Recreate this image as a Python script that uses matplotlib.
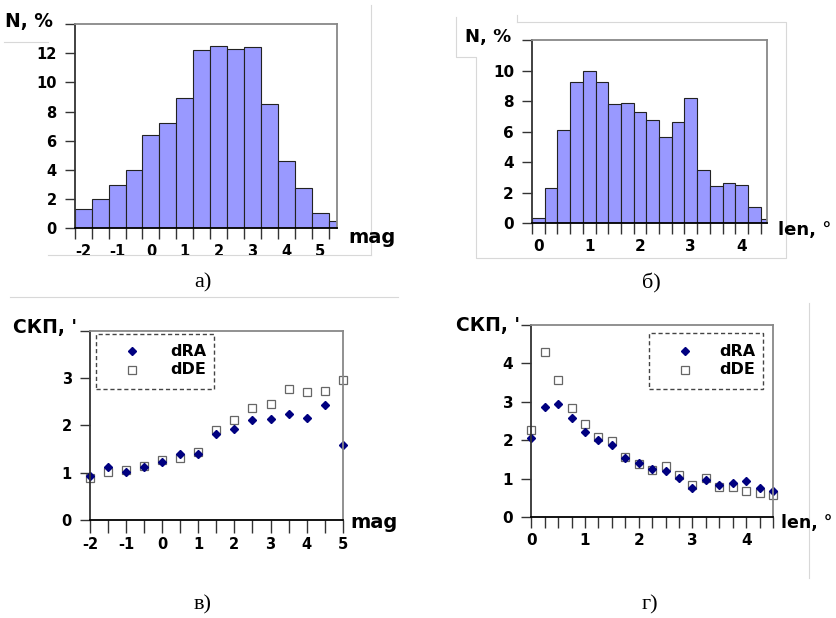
import numpy as np
import matplotlib
matplotlib.use("Agg")
import matplotlib.pyplot as plt
from matplotlib.lines import Line2D
from matplotlib.patches import Rectangle

# --- data -------------------------------------------------------------
mag_bins = [-2, -1.5, -1, -0.5, 0, 0.5, 1, 1.5, 2, 2.5, 3, 3.5, 4, 4.5, 5, 5.5]
mag_pct = [1.35, 2.0, 2.99, 4.0, 6.4, 7.2, 8.95, 12.2, 12.5, 12.3, 12.45, 8.5, 4.62, 2.77, 1.07, 0.48]

len_bins = [0, 0.25, 0.5, 0.75, 1.0, 1.25, 1.5, 1.75, 2.0, 2.25, 2.5, 2.75, 3.0,
            3.25, 3.5, 3.75, 4.0, 4.25, 4.5]
len_pct = [0.33, 2.3, 6.13, 9.26, 10.0, 9.26, 7.83, 7.9, 7.26, 6.76, 5.62, 6.63, 8.2,
           3.5, 2.47, 2.63, 2.49, 1.07, 0.26]

mag_x = [-2, -1.5, -1, -0.5, 0, 0.5, 1, 1.5, 2, 2.5, 3, 3.5, 4, 4.5, 5]
mag_dra = [0.94, 1.13, 1.01, 1.12, 1.22, 1.40, 1.39, 1.81, 1.92, 2.11, 2.13, 2.25, 2.16, 2.44, 1.58]
mag_dde = [0.88, 1.02, 1.05, 1.15, 1.26, 1.30, 1.44, 1.90, 2.11, 2.37, 2.46, 2.77, 2.70, 2.73, 2.96]

len_x = [0, 0.25, 0.5, 0.75, 1.0, 1.25, 1.5, 1.75, 2.0, 2.25, 2.5, 2.75, 3.0,
         3.25, 3.5, 3.75, 4.0, 4.25, 4.5]
len_dra = [2.05, 2.87, 2.95, 2.59, 2.23, 2.00, 1.89, 1.54, 1.41, 1.25, 1.21, 1.02, 0.75,
           0.97, 0.84, 0.89, 0.95, 0.77, 0.69]
len_dde = [2.26, 4.31, 3.56, 2.84, 2.42, 2.09, 1.99, 1.57, 1.38, 1.24, 1.34, 1.11, 0.83,
           1.01, 0.80, 0.80, 0.69, 0.64, 0.58]

W, H = 836, 618
fig = plt.figure(figsize=(W / 100, H / 100), dpi=100)
fig.patch.set_facecolor("white")

BAR = "#9999ff"
NAVY = "#000080"
GRAY = "#666666"


def rect(l, t, r, b):
    return [l / W, 1 - b / H, (r - l) / W, (b - t) / H]


def fx(x):
    return x / W


def fy(y):
    return 1 - y / H


def style_axes(ax, size=10):
    for s in ("top", "right"):
        ax.spines[s].set_color("#888888")
        ax.spines[s].set_linewidth(1.3)
    ax.spines["left"].set_color("#333333")
    ax.spines["bottom"].set_color("black")
    ax.spines["left"].set_linewidth(1.3)
    ax.spines["bottom"].set_linewidth(1.3)
    ax.tick_params(axis="both", which="both", direction="out", width=1.0,
                   color="#333333", labelsize=size)
    ax.tick_params(axis="y", which="major", length=7, pad=6)
    for lab in ax.get_xticklabels(which="both") + ax.get_yticklabels(which="both"):
        lab.set_fontweight("bold")


def fig_text(x, y, s, **kw):
    fig.text(fx(x), fy(y), s, **kw)


def legend_box(l, t, r, b, mx, tx, y1, y2):
    fig.add_artist(Rectangle((fx(l), fy(b)), fx(r) - fx(l), fy(t) - fy(b),
                             transform=fig.transFigure, fill=False,
                             edgecolor="#444444", linestyle=(0, (3, 2)), linewidth=1.0))
    fig.add_artist(Line2D([fx(mx)], [fy(y1)], marker="D", markersize=4.5, color=NAVY,
                          linestyle="none", transform=fig.transFigure))
    fig.add_artist(Line2D([fx(mx)], [fy(y2)], marker="s", markersize=5.5,
                          markerfacecolor="white", markeredgecolor=GRAY,
                          markeredgewidth=0.9, linestyle="none", transform=fig.transFigure))
    fig_text(tx, y1, "dRA", ha="right", va="center", fontsize=11.5, fontweight="bold")
    fig_text(tx, y2, "dDE", ha="right", va="center", fontsize=11.5, fontweight="bold")


# faint background frame lines
def faint(xs, ys):
    fig.add_artist(Line2D([fx(x) for x in xs], [fy(y) for y in ys],
                          color="#d8d8d8", linewidth=0.8, transform=fig.transFigure))


faint([371, 371], [5, 255])
faint([48, 371], [255, 255])
faint([4, 48], [42, 42])
faint([10, 398], [297, 297])
faint([517, 517], [15, 22])
faint([517, 786, 786, 476, 476, 456, 456], [22, 22, 258, 258, 57, 57, 17])
faint([809, 809], [303, 578])

# --- a) magnitude histogram ------------------------------------------
ax = fig.add_axes(rect(74.7, 24, 337.3, 228.3))
ax.bar(mag_bins, mag_pct, width=0.5, color=BAR, edgecolor="#222222", linewidth=0.8)
ax.set_xlim(-2.25, 5.5)
ax.set_ylim(0, 14)
edges = np.arange(-2.25, 5.51, 0.5)
ax.set_xticks(edges, [""] * len(edges))
ax.set_xticks([-2, -1, 0, 1, 2, 3, 4, 5], ["-2", "-1", "0", "1", "2", "3", "4", "5"], minor=True)
ax.tick_params(axis="x", which="major", length=8)
ax.tick_params(axis="x", which="minor", length=0, pad=11)
ax.set_yticks(range(0, 15, 2), ["0", "2", "4", "6", "8", "10", "12", ""])
style_axes(ax, 10.5)
fig_text(5, 22, "N, %", ha="left", va="center", fontsize=13.5, fontweight="bold")
fig_text(348, 237, "mag", ha="left", va="center", fontsize=14, fontweight="bold")
fig_text(203, 283, "а)", ha="center", va="center", fontsize=16, family="Liberation Serif")

# --- б) length histogram ----------------------------------------------
ax = fig.add_axes(rect(532, 40, 767, 223.3))
ax.bar(len_bins, len_pct, width=0.25, color=BAR, edgecolor="#222222", linewidth=0.8)
ax.set_xlim(-0.125, 4.5)
ax.set_ylim(0, 12)
edges = np.arange(-0.125, 4.51, 0.25)
ax.set_xticks(edges, [""] * len(edges))
ax.set_xticks([0, 1, 2, 3, 4], ["0", "1", "2", "3", "4"], minor=True)
ax.tick_params(axis="x", which="major", length=8)
ax.tick_params(axis="x", which="minor", length=0, pad=11)
ax.set_yticks(range(0, 13, 2), ["0", "2", "4", "6", "8", "10", ""])
style_axes(ax, 11)
fig_text(465, 37, "N, %", ha="left", va="center", fontsize=13, fontweight="bold")
fig_text(778, 230, "len, °", ha="left", va="center", fontsize=13, fontweight="bold")
fig_text(651, 283, "б)", ha="center", va="center", fontsize=16, family="Liberation Serif")

# --- в) errors vs magnitude -------------------------------------------
ax = fig.add_axes(rect(90, 330.7, 342.7, 520))
ax.plot(mag_x, mag_dde, linestyle="none", marker="s", markersize=6,
        markerfacecolor="white", markeredgecolor=GRAY, markeredgewidth=0.9, clip_on=False)
ax.plot(mag_x, mag_dra, linestyle="none", marker="D", markersize=4.5, color=NAVY, clip_on=False)
ax.set_xlim(-2, 5)
ax.set_ylim(0, 4)
ax.set_xticks(range(-2, 6), [str(v) for v in range(-2, 6)])
ax.set_xticks(np.arange(-1.5, 5, 1.0), minor=True)
ax.tick_params(axis="x", which="both", length=9, pad=3)
ax.set_yticks(range(0, 5), ["0", "1", "2", "3", ""])
style_axes(ax, 10.5)
legend_box(95.7, 334, 214.3, 389.3, 132, 206, 351, 370)
fig_text(13, 328, "СКП, '", ha="left", va="center", fontsize=13.5, fontweight="bold")
fig_text(350, 523, "mag", ha="left", va="center", fontsize=14, fontweight="bold")
fig_text(203, 605, "в)", ha="center", va="center", fontsize=16, family="Liberation Serif")

# --- г) errors vs length ----------------------------------------------
ax = fig.add_axes(rect(531.3, 325, 773, 517.3))
ax.plot(len_x, len_dde, linestyle="none", marker="s", markersize=6,
        markerfacecolor="white", markeredgecolor=GRAY, markeredgewidth=0.9, clip_on=False)
ax.plot(len_x, len_dra, linestyle="none", marker="D", markersize=4.5, color=NAVY, clip_on=False)
ax.set_xlim(0, 4.5)
ax.set_ylim(0, 5)
ax.set_xticks(range(0, 5), [str(v) for v in range(0, 5)])
ax.set_xticks(np.arange(0, 4.51, 0.25), minor=True)
ax.tick_params(axis="x", which="both", length=8, pad=3)
ax.set_yticks(range(0, 6), ["0", "1", "2", "3", "4", ""])
style_axes(ax, 11)
legend_box(648.7, 333.3, 763, 389.3, 685, 755, 351, 370)
fig_text(456, 326, "СКП, '", ha="left", va="center", fontsize=13.5, fontweight="bold")
fig_text(781, 523, "len, °", ha="left", va="center", fontsize=12.5, fontweight="bold")
fig_text(650, 605, "г)", ha="center", va="center", fontsize=16, family="Liberation Serif")

fig.savefig("out.png", dpi=100, facecolor="white")
